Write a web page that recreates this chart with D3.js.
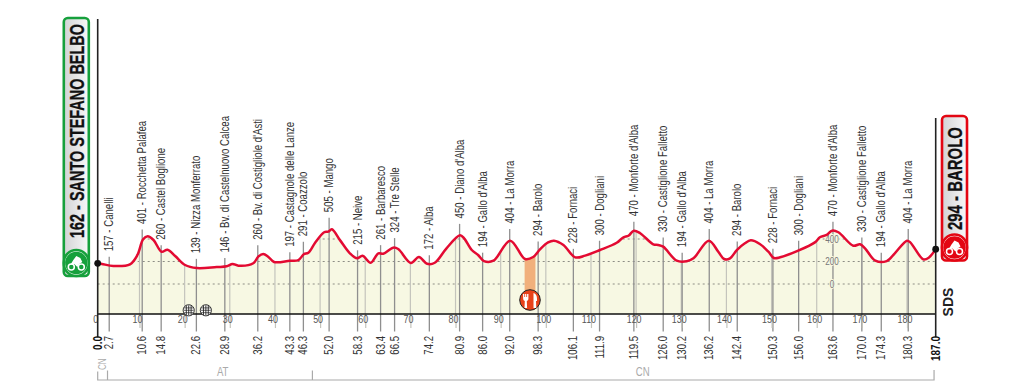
<!DOCTYPE html>
<html>
<head>
<meta charset="utf-8">
<script src="https://cdn.jsdelivr.net/npm/d3@7"></script>
<style>
  html, body { margin: 0; background: #fff; }
  svg { display: block; }
  text { font-family: "Liberation Sans", sans-serif; }
</style>
</head>
<body>
<svg id="chart" width="1024" height="390"></svg>
<script>
// waypoints
const wayKm = [2.7, 10.6, 14.8, 22.6, 28.9, 36.2, 43.3, 46.3, 52.0, 58.3, 63.4, 66.5, 74.2, 80.9, 86.0, 92.0, 98.3, 106.1, 111.9, 119.5, 126.0, 130.2, 136.2, 142.4, 150.3, 156.0, 163.6, 170.0, 174.3, 180.3];
const wayAlt = [157, 401, 260, 139, 146, 260, 197, 291, 505, 215, 261, 324, 172, 450, 194, 404, 294, 228, 300, 470, 330, 194, 404, 294, 228, 300, 470, 330, 194, 404];
const wayName = ["Canelli", "Rocchetta Palafea", "Castel Boglione", "Nizza Monferrato", "Bv. di Castelnuovo Calcea", "Bv. di Costigliole d'Asti", "Castagnole delle Lanze", "Coazzolo", "Mango", "Neive", "Barbaresco", "Tre Stelle", "Alba", "Diano d'Alba", "Gallo d'Alba", "La Morra", "Barolo", "Fornaci", "Dogliani", "Monforte d'Alba", "Castiglione Falletto", "Gallo d'Alba", "La Morra", "Barolo", "Fornaci", "Dogliani", "Monforte d'Alba", "Castiglione Falletto", "Gallo d'Alba", "La Morra"];

// elevation profile
const profileKm = [0, 1.0, 3.7, 7.7, 9.5, 10.8, 11.8, 13.1, 14.9, 16.2, 17.9, 20.1, 22.7, 27.1, 29.3, 30.6, 31.9, 35.2, 36.3, 37.4, 38.5, 39.8, 43.3, 45.2, 46.4, 47.4, 48.9, 50.9, 51.8, 52.6, 54.4, 56.6, 58.2, 59.4, 61.2, 62.9, 64.0, 66.2, 67.3, 70.1, 71.9, 73.7, 75.4, 78.0, 81.0, 81.9, 83.6, 85.0, 86.3, 88.4, 92.1, 95.4, 97.2, 98.7, 100.5, 101.8, 103.9, 106.5, 108.7, 112.0, 115.7, 117.2, 118.3, 119.5, 120.9, 123.8, 124.9, 126.0, 129.0, 131.2, 132.7, 136.1, 138.2, 139.5, 140.8, 142.3, 144.1, 145.4, 147.4, 149.3, 150.5, 151.9, 155.9, 159.6, 160.7, 162.2, 163.4, 164.8, 168.1, 169.6, 170.7, 173.0, 175.5, 177.3, 180.0, 180.8, 184.0, 185.3, 187.0];
const profileAlt = [184, 178, 160, 175, 258, 397, 424, 391, 287, 305, 249, 169, 142, 151, 157, 178, 163, 184, 243, 267, 243, 196, 207, 213, 264, 278, 367, 460, 465, 486, 390, 273, 228, 252, 189, 273, 269, 323, 311, 187, 240, 180, 189, 317, 433, 406, 302, 258, 204, 207, 385, 222, 240, 308, 370, 385, 347, 237, 252, 302, 367, 415, 429, 474, 451, 353, 347, 332, 207, 202, 228, 385, 287, 222, 228, 302, 362, 388, 356, 287, 231, 237, 296, 370, 415, 436, 474, 460, 340, 353, 317, 207, 204, 273, 385, 370, 219, 234, 310];

const kmTicks = d3.range(0, 181, 10);
const altTicks = [0, 200, 400];
const provinceBreaks = [0, 2.3, 48.3, 186.6];
const provinceNames = ["CN", "AT", "CN"];
const feedZone = [95.3, 97.7];
const crossings = [20.9, 24.7];
const baseAlt = -267;

const svg = d3.select("#chart");

const x = d3.scaleLinear().domain([0, 3, 10, 180, 187]).range([97.7, 110.5, 139.5, 907, 935.7]);
const y = d3.scaleLinear().domain([0, 400]).range([284, 239]);
const baseY = y(baseAlt);

const narrow = "scale(0.74,1)";

const pts = profileKm.map((k, i) => [k, profileAlt[i]]);
const area = d3.area().x(d => x(d[0])).y0(baseY).y1(d => y(d[1])).curve(d3.curveCatmullRom.alpha(0.5));
const line = d3.line().x(d => x(d[0])).y(d => y(d[1])).curve(d3.curveCatmullRom.alpha(0.5));

const defs = svg.append("defs");
defs.append("clipPath").attr("id", "under").append("path").attr("d", area(pts));
const grad = defs.append("linearGradient").attr("id", "badgefill");
grad.append("stop").attr("offset", "0").attr("stop-color", "#d2d3d5");
grad.append("stop").attr("offset", "1").attr("stop-color", "#f8f8f8");

// profile fill
svg.append("path").attr("d", area(pts)).attr("fill", "#f7f8e3");

const under = svg.append("g").attr("clip-path", "url(#under)");

under.selectAll("line.grid")
    .data(altTicks)
    .enter()
    .append("line")
    .attr("class", "grid")
    .attr("x1", x(0)).attr("x2", x(187))
    .attr("y1", d => y(d)).attr("y2", d => y(d))
    .attr("stroke", "#8d8d85")
    .attr("stroke-width", 1)
    .attr("stroke-dasharray", "2 3");

// km ticks inside the profile
under.selectAll("line.km")
    .data(kmTicks.slice(1))
    .enter()
    .append("line")
    .attr("class", "km")
    .attr("x1", d => x(d)).attr("x2", d => x(d))
    .attr("y1", 220).attr("y2", baseY)
    .attr("stroke", "#c4c4bc")
    .attr("stroke-width", 1.2);

// feed zone
under.append("rect")
    .attr("x", x(feedZone[0]))
    .attr("width", x(feedZone[1]) - x(feedZone[0]))
    .attr("y", 240).attr("height", 60)
    .attr("fill", "#f1b07c");

// waypoint lines and labels
svg.selectAll("line.way")
    .data(wayKm)
    .enter()
    .append("line")
    .attr("class", "way")
    .attr("x1", d => x(d)).attr("x2", d => x(d))
    .attr("y1", (d, i) => y(wayAlt[i]) - 9.5)
    .attr("y2", 331.5)
    .attr("stroke", "#8f8f8f")
    .attr("stroke-width", 1.3);

svg.selectAll("text.way")
    .data(wayName)
    .enter()
    .append("text")
    .attr("class", "way")
    .attr("transform", (d, i) => `translate(${x(wayKm[i]) - 0.5},${y(wayAlt[i]) - 15}) rotate(-90) ${narrow}`)
    .attr("dy", "0.35em")
    .attr("font-size", 13)
    .attr("fill", "#333")
    .text((d, i) => `${wayAlt[i]} - ${d}`);

svg.selectAll("text.kmlab")
    .data(wayKm)
    .enter()
    .append("text")
    .attr("class", "kmlab")
    .attr("transform", d => `translate(${x(d) - 0.5},336) rotate(-90) ${narrow}`)
    .attr("dy", "0.35em")
    .attr("text-anchor", "end")
    .attr("font-size", 13)
    .attr("fill", "#333")
    .text(d => d.toFixed(1));

// km axis
const kmAxis = d3.axisBottom(x).tickValues(kmTicks).tickSize(14);
const axisG = svg.append("g").attr("transform", `translate(0,${baseY})`).call(kmAxis);
axisG.select(".domain").remove();
axisG.selectAll("line").attr("stroke", "#c4c4bc").attr("stroke-width", 1.2);
axisG.select(".tick line").remove();
axisG.selectAll("text")
    .attr("y", 2)
    .attr("transform", "translate(-2.5,0) scale(0.85,1)")
    .attr("font-family", '"Liberation Sans", sans-serif')
    .attr("font-size", 10.5)
    .attr("fill", "#555");

// altitude labels
svg.selectAll("text.alt")
    .data(altTicks)
    .enter()
    .append("text")
    .attr("class", "alt")
    .attr("transform", d => `translate(832,${y(d) + 3.5}) ${narrow}`)
    .attr("text-anchor", "middle")
    .attr("font-size", 11)
    .attr("fill", "#777")
    .attr("stroke", "#f7f8e3").attr("stroke-width", 2).attr("paint-order", "stroke")
    .text(d => d);

// profile line
svg.append("path")
    .attr("d", line(pts))
    .attr("fill", "none")
    .attr("stroke", "#e30a32")
    .attr("stroke-width", 2.5)
    .attr("stroke-linejoin", "round");

// frame
svg.append("line").attr("x1", x(0)).attr("x2", x(187)).attr("y1", baseY).attr("y2", baseY).attr("stroke", "#111").attr("stroke-width", 1.6);
svg.append("line").attr("x1", x(0)).attr("x2", x(0)).attr("y1", 19).attr("y2", 337).attr("stroke", "#222").attr("stroke-width", 1.6);
svg.append("line").attr("x1", x(187)).attr("x2", x(187)).attr("y1", 118).attr("y2", 337).attr("stroke", "#222").attr("stroke-width", 1.6);
svg.selectAll("circle.end")
    .data([pts[0], pts[pts.length - 1]])
    .enter()
    .append("circle")
    .attr("class", "end")
    .attr("cx", d => x(d[0])).attr("cy", d => y(d[1]))
    .attr("r", 3.4)
    .attr("fill", "#111");

// 0.0 and 187.0 in bold
svg.selectAll("text.endkm")
    .data([0, 187])
    .enter()
    .append("text")
    .attr("class", "endkm")
    .attr("transform", d => `translate(${x(d)},336) rotate(-90) ${narrow}`)
    .attr("dy", "0.35em")
    .attr("text-anchor", "end")
    .attr("font-size", 13.5)
    .attr("font-weight", "bold")
    .attr("fill", "#111")
    .text(d => d.toFixed(1));

// level crossings
const cross = svg.selectAll("g.cross")
    .data(crossings)
    .enter()
    .append("g")
    .attr("class", "cross")
    .attr("transform", d => `translate(${x(d)},310.3)`);
cross.append("circle").attr("r", 5.6).attr("fill", "#fff").attr("stroke", "#222").attr("stroke-width", 0.9);
for (const d of [-2.4, 0, 2.4]) {
    cross.append("line").attr("x1", d).attr("x2", d).attr("y1", -5).attr("y2", 5).attr("stroke", "#222").attr("stroke-width", 0.9);
    cross.append("line").attr("y1", d).attr("y2", d).attr("x1", -5).attr("x2", 5).attr("stroke", "#222").attr("stroke-width", 0.7);
}

// feed zone badge
const feed = svg.append("g").attr("transform", "translate(530,300)");
feed.append("circle").attr("r", 10.3).attr("fill", "#e8421b").attr("stroke", "#222").attr("stroke-width", 1);
feed.append("path").attr("d", "M-7,-6 h1.3 v3 h0.8 v-3 h1.2 v3 h0.8 v-3 h1.3 v5 q0,1.5 -1.6,2 l0.3,7 h-2.6 l0.3,-7 q-1.6,-0.5 -1.6,-2 z").attr("fill", "#fff");
feed.append("path").attr("d", "M3.5,-7 q3.5,1 3.5,6 v2 h-1 l0.3,7 h-2.8 z").attr("fill", "#fff");

// province bracket
svg.append("path")
    .attr("d", `M${x(provinceBreaks[0])},371.5V380H${x(provinceBreaks[3])}V370`)
    .attr("fill", "none").attr("stroke", "#aaa").attr("stroke-width", 1.2);
svg.selectAll("line.prov")
    .data(provinceBreaks.slice(1, 3))
    .enter()
    .append("line")
    .attr("class", "prov")
    .attr("x1", d => x(d)).attr("x2", d => x(d))
    .attr("y1", 370.5).attr("y2", 380)
    .attr("stroke", "#aaa").attr("stroke-width", 1.2);
svg.append("text").attr("transform", `translate(102.5,370) rotate(-90) ${narrow}`).attr("dy", "0.35em")
    .attr("font-size", 11).attr("fill", "#aaa").text(provinceNames[0]);
svg.append("text").attr("transform", `translate(222.7,376) ${narrow}`).attr("text-anchor", "middle")
    .attr("font-size", 13).attr("fill", "#aaa").text(provinceNames[1]);
svg.append("text").attr("transform", `translate(642.7,376) ${narrow}`).attr("text-anchor", "middle")
    .attr("font-size", 13).attr("fill", "#aaa").text(provinceNames[2]);

// start and finish badges
function badge(bx, top, bottom, colour, label, textBottom, textLen) {
    const g = svg.append("g");
    g.append("rect")
        .attr("x", bx).attr("y", top).attr("width", 25).attr("height", bottom - top)
        .attr("rx", 4)
        .attr("fill", "url(#badgefill)")
        .attr("stroke", colour).attr("stroke-width", 2.6);
    g.append("rect")
        .attr("x", bx).attr("y", bottom - 26).attr("width", 25).attr("height", 26)
        .attr("rx", 12.5)
        .attr("fill", "#fff")
        .attr("stroke", colour).attr("stroke-width", 2.6);
    const t = g.append("text")
        .attr("dy", "0.36em")
        .attr("font-weight", "bold")
        .attr("font-size", 20)
        .attr("fill", "#111")
        .attr("stroke", "#111").attr("stroke-width", 0.3)
        .text(label);
    const sx = textLen / t.node().getComputedTextLength();
    t.attr("transform", `translate(${bx + 12.5},${textBottom}) rotate(-90) scale(${sx},1)`);
    const c = g.append("g").attr("transform", `translate(${bx + 12.5},${bottom - 13})`);
    c.append("circle").attr("r", 11.2).attr("fill", colour);
    c.append("circle").attr("cx", -5).attr("cy", 4).attr("r", 3).attr("fill", "none").attr("stroke", "#fff").attr("stroke-width", 1.5);
    c.append("circle").attr("cx", 5).attr("cy", 4).attr("r", 3).attr("fill", "none").attr("stroke", "#fff").attr("stroke-width", 1.5);
    c.append("path").attr("d", "M-6,2 L-3,-3 L0,-7 L4,-5 L6,-1 L3,1 L1,4 L-2,1 z").attr("fill", "#fff");
}
badge(63.8, 18, 276, "#16a03c", "162 - SANTO STEFANO BELBO", 238, 214);
badge(942, 116, 260.5, "#e30613", "294 - BAROLO", 230, 103);

// SDS mark
svg.append("text")
    .attr("transform", "translate(948,302) rotate(-90)")
    .attr("dy", "0.36em")
    .attr("text-anchor", "middle")
    .attr("font-size", 14)
    .attr("font-weight", "bold")
    .attr("fill", "#222")
    .text("SDS");
</script>
</body>
</html>
